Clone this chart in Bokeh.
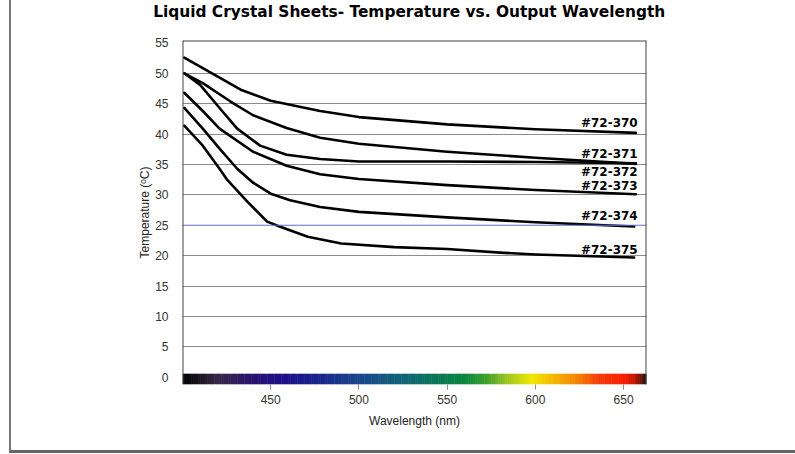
import numpy as np
from bokeh.plotting import figure
from bokeh.layouts import column
from bokeh.models import FixedTicker, Span
from bokeh.core.properties import value
from bokeh.embed import file_html
from bokeh.resources import INLINE

# ---- data ----
title_text = "Liquid Crystal Sheets- Temperature vs. Output Wavelength"
series_names = ["#72-370", "#72-371", "#72-372", "#72-373", "#72-374", "#72-375"]

wl370 = [401, 421, 433, 450, 478, 500, 550, 600, 657]
t370 = [52.6, 49.3, 47.3, 45.5, 43.8, 42.8, 41.6, 40.8, 40.2]

wl371 = [401, 411.5, 427, 440, 459, 478, 500, 550, 600, 657]
t371 = [50.0, 48.4, 45.4, 43.1, 41.0, 39.4, 38.4, 37.1, 36.1, 35.1]

wl372 = [401, 410, 421, 431, 444, 459, 478, 500, 550, 600, 657]
t372 = [50.0, 48.1, 44.3, 40.9, 38.1, 36.6, 35.9, 35.5, 35.5, 35.4, 35.2]

wl373 = [401, 411.5, 421, 440, 459, 478, 500, 550, 600, 657]
t373 = [46.8, 43.8, 40.9, 37.1, 34.8, 33.4, 32.6, 31.6, 30.8, 30.1]

wl374 = [401, 411.5, 421, 431, 440, 450, 461, 478, 500, 550, 600, 656]
t374 = [44.3, 40.9, 37.6, 34.3, 32.0, 30.2, 29.1, 28.0, 27.2, 26.3, 25.5, 24.8]

wl375 = [401, 411.5, 421, 425, 437, 448, 455, 471, 490, 520, 550, 580, 600, 656]
t375 = [41.4, 38.1, 34.3, 32.6, 28.8, 25.6, 24.8, 23.1, 22.0, 21.4, 21.1, 20.5, 20.2, 19.7]

y_ticks = [0, 5, 10, 15, 20, 25, 30, 35, 40, 45, 50, 55]
x_ticks = [450, 500, 550, 600, 650]

# ---- layout / style constants ----
label_x = 658
label_y = [41.9, 36.8, 33.8, 31.45, 26.45, 20.95]
spectrum_stops = [
    (400, (0, 0, 0)), (420, (55, 40, 70)), (440, (40, 18, 110)), (458, (30, 16, 140)),
    (480, (25, 40, 140)), (500, (25, 70, 140)), (525, (16, 100, 120)), (545, (10, 120, 85)),
    (560, (8, 135, 60)), (572, (60, 160, 45)), (585, (165, 200, 30)), (598, (240, 232, 0)),
    (611, (245, 180, 0)), (624, (245, 128, 0)), (636, (245, 60, 10)), (650, (250, 30, 0)),
    (656, (200, 20, 0)), (663, (30, 20, 20)),
]

x0, x1 = 400, 663
y0, y1 = -1.2, 55.4

W = 786
TH = 22
H = 453 - TH

# ---- title strip (its own small svg figure) ----
tp = figure(width=W, height=TH, output_backend="svg", toolbar_location=None,
            x_range=(0, 1), y_range=(0, 1), min_border=0, frame_align=False,
            background_fill_color="white", border_fill_color="white",
            styles={"margin-left": "9px", "border-left": "2px solid #777"})
tp.axis.visible = False
tp.grid.visible = False
tp.outline_line_color = None
tp.text(x=[0.506], y=[0.5], text=[title_text], text_align="center", text_baseline="middle",
        text_font=value("DejaVu Sans"), text_font_style="bold", text_font_size="15.4px",
        text_color="black")

# ---- main chart ----
p = figure(width=W, height=H, output_backend="svg", toolbar_location=None,
           x_range=(x0, x1), y_range=(y0, y1), frame_align=False,
           min_border_left=171, min_border_right=151,
           min_border_top=42 - TH - 2, min_border_bottom=69,
           background_fill_color="white", border_fill_color="white",
           styles={"margin-left": "9px", "border-left": "2px solid #777",
                   "border-bottom": "3px solid #666"})
p.outline_line_color = None

# grid
p.xgrid.visible = False
p.ygrid.ticker = FixedTicker(ticks=[v for v in y_ticks if v not in (0, 25, 55)])
p.ygrid.grid_line_color = "#8c8c8c"
p.ygrid.grid_line_width = 1.2
p.add_layout(Span(location=25, dimension="width", line_color="#6a6ad8", line_width=1))

# spectrum bar
edges = np.arange(x0, x1 + 1, 1.0)
sx = [s[0] for s in spectrum_stops]
cols = []
for e in edges[:-1] + 0.5:
    rgb = [int(round(np.interp(e, sx, [s[1][k] for s in spectrum_stops]))) for k in range(3)]
    cols.append("#%02x%02x%02x" % tuple(rgb))
p.quad(left=edges[:-1], right=edges[1:] + 0.3, bottom=y0, top=0.55,
       fill_color=cols, line_color=None)

# frame (left, top, right)
for loc in (x0, x1):
    p.add_layout(Span(location=loc, dimension="height", line_color="#444444", line_width=2))
p.add_layout(Span(location=y1, dimension="width", line_color="#444444", line_width=2))

# curves
xs = [wl370, wl371, wl372, wl373, wl374, wl375]
ys = [t370, t371, t372, t373, t374, t375]
for xv, yv in zip(xs, ys):
    p.line(xv, yv, line_color="black", line_width=2.6, line_join="round", line_cap="round")

p.text(x=[label_x] * len(series_names), y=label_y, text=series_names,
       text_font=value("DejaVu Sans"), text_font_style="bold", text_font_size="12px",
       text_align="right", text_baseline="middle", text_color="black")

# axes
p.yaxis.ticker = FixedTicker(ticks=y_ticks)
p.xaxis.ticker = FixedTicker(ticks=x_ticks)
for ax in (p.xaxis[0], p.yaxis[0]):
    ax.axis_line_color = None
    ax.minor_tick_line_color = None
    ax.major_label_text_font = "Liberation Sans"
    ax.major_label_text_font_size = "12px"
    ax.major_label_text_color = "#333333"
    ax.axis_label_text_font = "Liberation Sans"
    ax.axis_label_text_font_size = "12px"
    ax.axis_label_text_font_style = "normal"
    ax.axis_label_text_color = "#222222"
p.yaxis.major_tick_line_color = None
p.yaxis.major_label_standoff = 8
p.yaxis.axis_label = "Temperature (ᵒC)"
p.yaxis.axis_label_standoff = 0
p.xaxis.major_tick_line_color = "#888888"
p.xaxis.major_tick_out = 5
p.xaxis.major_tick_in = 0
p.xaxis.major_label_standoff = 5
p.xaxis.axis_label = "Wavelength (nm)"
p.xaxis.axis_label_standoff = 7

layout = column(tp, p, spacing=0)
open("out.html", "w").write(file_html(layout, INLINE))
